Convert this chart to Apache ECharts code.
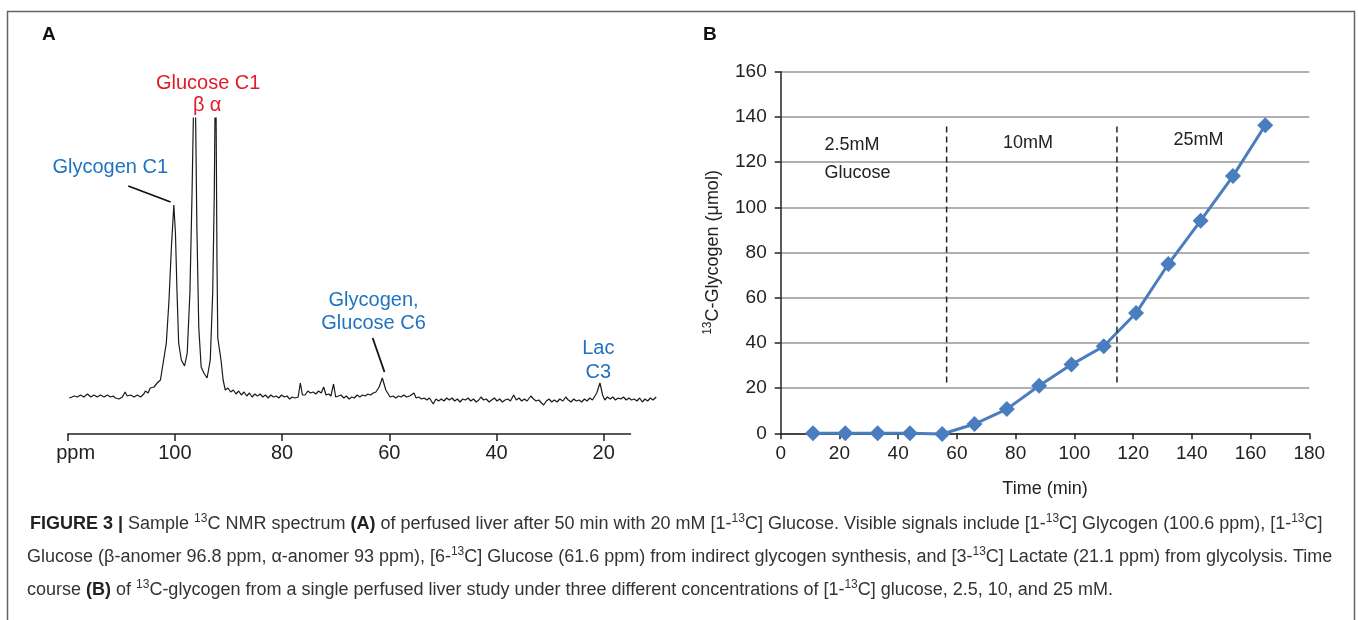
<!DOCTYPE html>
<html>
<head>
<meta charset="utf-8">
<script src="https://cdn.jsdelivr.net/npm/echarts@6.0.0/dist/echarts.min.js"></script>
<style>
  html, body { margin: 0; padding: 0; background: #fff; }
  #main { width: 1358px; height: 620px; }
</style>
</head>
<body>
<div id="main"></div>
<script>
// ---- panel A : 13C NMR spectrum (ppm, intensity) ----
var ppmTicks = [120, 100, 80, 60, 40, 20];
var specPpm = [
  119.7, 119.2, 118.8, 118.2, 117.6, 117.0, 116.3, 115.7, 115.1, 114.5, 113.9, 113.2, 112.6, 112.0, 111.5, 111.1,
  110.4, 109.8, 109.3, 108.9, 108.3, 107.6, 107.0, 106.4, 105.8, 105.5, 105.0, 104.6, 103.9, 103.3, 102.7, 102.4,
  101.6, 101.1, 100.65, 100.2, 99.9, 99.6, 99.3, 98.8, 98.2, 97.7, 97.2, 96.8, 96.3, 95.9, 95.55, 95.1,
  94.6, 94.0, 93.4, 92.95, 92.65, 92.4, 92.15, 92.0, 91.7, 91.4, 91.0, 90.6, 90.1, 89.6, 89.1, 88.6,
  88.1, 87.6, 87.1, 86.6, 86.1, 85.6, 85.1, 84.6, 84.1, 83.6, 83.1, 82.6, 82.1, 81.6, 81.1, 80.6,
  80.1, 79.6, 79.1, 78.6, 78.1, 77.6, 77.0, 76.6, 76.2, 75.7, 75.2, 74.7, 74.2, 73.7, 73.2, 72.7,
  72.25, 71.8, 71.3, 70.9, 70.4, 70.0, 69.5, 69.0, 68.5, 68.0, 67.5, 67.0, 66.5, 66.0, 65.5, 65.0,
  64.5, 64.0, 63.5, 63.0, 62.5, 61.9, 61.3, 60.65, 59.85, 59.3, 58.8, 58.3, 57.8, 57.3, 56.8, 56.2,
  55.4, 55.0, 54.5, 54.0, 53.5, 53.0, 52.5, 51.8, 51.3, 50.8, 50.3, 49.8, 49.3, 48.8, 48.3, 47.8,
  47.3, 46.8, 46.3, 45.8, 45.3, 44.8, 44.3, 43.8, 43.3, 42.9, 42.4, 41.9, 41.4, 40.9, 40.4, 39.9,
  39.4, 38.9, 38.4, 37.9, 37.4, 36.8, 36.3, 35.8, 35.3, 34.8, 34.3, 33.6, 33.1, 32.6, 32.1, 31.6,
  31.2, 30.7, 30.2, 29.7, 29.2, 28.7, 28.2, 27.6, 27.1, 26.6, 26.1, 25.6, 25.1, 24.6, 24.1, 23.6,
  23.1, 22.6, 22.1, 21.8, 21.3, 20.7, 20.2, 19.8, 19.3, 18.8, 18.3, 17.8, 17.3, 16.8, 16.3, 15.8,
  15.3, 14.8, 14.3, 13.8, 13.3, 12.8, 12.3, 11.8, 11.3, 10.8, 10.2
];
var specInt = [
  2, 3, 4, 3, 5, 3, 6, 3, 5, 3, 5, 3, 5, 3, 4, 2,
  1, 3, 8, 4, 5, 3, 5, 3, 6, 9, 7, 12, 13, 17, 20, 30,
  57, 100, 153, 195, 167, 107, 57, 40, 34, 47, 107, 207, 360, 173, 73, 33,
  27, 22, 40, 107, 207, 360, 140, 62, 62, 40, 20, 10, 12, 8, 10, 6,
  9, 5, 8, 4, 7, 3, 6, 4, 6, 3, 5, 2, 5, 3, 4, 2,
  5, 3, 4, 1, 3, 2, 3, 17, 5, 5, 9, 7, 8, 6, 9, 7,
  13, 5, 6, 4, 16, 3, 4, 5, 2, 4, 1, 3, 2, 5, 3, 5,
  4, 6, 5, 7, 8, 13, 22, 10, 3, 4, 2, 4, 3, 5, 3, 4,
  7, 2, 3, 1, 2, 0, 2, -4, 1, -1, 1, -1, 2, 0, 2, -1,
  1, -2, 1, 0, 2, -1, 1, -2, 0, 3, 0, 1, -2, 0, 2, -1,
  1, -2, 0, 1, -1, 5, 0, 2, -1, 1, -1, 4, 1, -1, 0, -3,
  -5, -1, 1, -2, 0, -2, 1, -1, 3, 0, -2, 1, -1, 0, -2, 1,
  -1, 2, 0, 1, 7, 17, 5, 0, 3, 1, 3, 0, 2, 1, 3, 0,
  2, 0, 1, -1, 2, -2, 1, -1, 2, 0, 3
];
// leader lines (ppm, intensity)
var leaderC1 = [[108.7, 214], [100.8, 198]];
var leaderC6 = [[63.1, 62], [60.9, 28]];
// peak annotations: text, ppm, intensity, colour
var peakNames = ['Glucose C1', '\u03b2', '\u03b1', 'Glycogen C1', 'Glycogen,', 'Glucose C6', 'Lac', 'C3'];
var peakPpm = [93.8, 95.55, 92.4, 112.06, 62.94, 62.94, 21.0, 21.0];
var peakInt = [317, 295, 295, 233, 100, 77, 52, 28];
var peakColor = ['#e31b27', '#e31b27', '#e31b27', '#1f73c0', '#1f73c0', '#1f73c0', '#1f73c0', '#1f73c0'];

// ---- panel B : 13C-glycogen time course ----
var timeMin = [11, 22, 33, 44, 55, 66, 77, 88, 99, 110, 121, 132, 143, 154, 165];
var glycogen = [0, 0, 0, 0, -0.3, 4.1, 10.7, 21, 30.4, 38.5, 53.2, 74.9, 94.1, 113.8, 136.3];
var dividerX = [56.5, 114.5];
var dividerY = [22.5, 136];
var phaseNames = ['2.5mM', 'Glucose', '10mM', '25mM'];
var phaseX = [14.9, 14.9, 84.2, 142.3];
var phaseY = [127.6, 115, 128.4, 129.8];

var FONT = '"Liberation Sans", Arial, Helvetica, sans-serif';
var myChart = echarts.init(document.getElementById('main'));

var dividerSeries = dividerX.map(function (x) {
  return {
    type: 'line', xAxisIndex: 2, yAxisIndex: 2, symbol: 'none', silent: true,
    data: [[x, dividerY[0]], [x, dividerY[1]]],
    lineStyle: { color: '#222', width: 1.5, type: [6, 4] }
  };
});

var supStyle = { fontSize: 12, padding: [0, 0, 11, 0] };

var option = {
  animation: false,
  textStyle: { fontFamily: FONT },
  grid: [
    { left: 67.7, top: 118, width: 562.8, height: 316 },   // axis of A
    { left: 67.7, top: 118, width: 589.6, height: 302 },   // trace of A
    { left: 780.7, top: 71.7, width: 528.6, height: 361.6 } // B
  ],
  xAxis: [
    {
      gridIndex: 0, type: 'value', min: 15, max: 120, inverse: true,
      axisLine: { lineStyle: { color: '#222', width: 1.5 } },
      axisTick: { customValues: ppmTicks, length: 7, lineStyle: { color: '#222', width: 1.5 } },
      axisLabel: {
        customValues: ppmTicks, fontSize: 20, color: '#222', margin: 9, fontFamily: FONT,
        formatter: function (v) { return v === 120 ? '{p|ppm}' : String(v); },
        rich: { p: { fontSize: 20, color: '#222', padding: [0, 0, 0, 16], fontFamily: FONT } }
      },
      splitLine: { show: false }
    },
    { gridIndex: 1, type: 'value', min: 10, max: 120, inverse: true, show: false },
    {
      gridIndex: 2, type: 'value', min: 0, max: 180, interval: 20,
      name: 'Time (min)', nameLocation: 'middle', nameGap: 47,
      nameTextStyle: { fontSize: 18, color: '#222', fontFamily: FONT },
      axisLine: { lineStyle: { color: '#222', width: 1.5 } },
      axisTick: { length: 6, lineStyle: { color: '#222', width: 1.5 } },
      axisLabel: { fontSize: 19, color: '#222', margin: 11, fontFamily: FONT },
      splitLine: { show: false }
    }
  ],
  yAxis: [
    { gridIndex: 0, type: 'value', min: 0, max: 1, show: false },
    { gridIndex: 1, type: 'value', min: -20, max: 282, show: false },
    {
      gridIndex: 2, type: 'value', min: 0, max: 160, interval: 20,
      name: '{sup|13}C-Glycogen (\u03bcmol)', nameLocation: 'middle', nameGap: 57,
      nameTextStyle: {
        fontSize: 18, color: '#222', fontFamily: FONT,
        rich: { sup: { fontSize: 12, color: '#222', padding: [0, 0, 10, 0], fontFamily: FONT } }
      },
      axisLine: { show: true, lineStyle: { color: '#222', width: 1.5 } },
      axisTick: { show: true, length: 6, lineStyle: { color: '#222', width: 1.5 } },
      axisLabel: { fontSize: 19, color: '#222', margin: 14, fontFamily: FONT },
      splitLine: { show: true, lineStyle: { color: '#b0b0b0', width: 1.8 } }
    }
  ],
  series: [
    {
      type: 'line', xAxisIndex: 1, yAxisIndex: 1, symbol: 'none', silent: true,
      data: specPpm.map(function (p, i) { return [p, specInt[i]]; }),
      lineStyle: { color: '#1a1a1a', width: 1.2 }
    },
    {
      type: 'line', xAxisIndex: 1, yAxisIndex: 1, symbol: 'none', silent: true,
      data: leaderC1, lineStyle: { color: '#111', width: 1.8 }
    },
    {
      type: 'line', xAxisIndex: 1, yAxisIndex: 1, symbol: 'none', silent: true,
      data: leaderC6, lineStyle: { color: '#111', width: 1.8 }
    },
    {
      type: 'scatter', xAxisIndex: 1, yAxisIndex: 1, symbolSize: 0, clip: false, silent: true,
      itemStyle: { opacity: 1 },
      data: peakNames.map(function (n, i) {
        return { name: n, value: [peakPpm[i], peakInt[i]], label: { color: peakColor[i] } };
      }),
      label: {
        show: true, position: 'inside', formatter: '{b}', fontSize: 20, fontFamily: FONT,
        textBorderWidth: 0, textShadowBlur: 0, opacity: 1
      }
    },
    {
      type: 'line', xAxisIndex: 2, yAxisIndex: 2, clip: false,
      data: timeMin.map(function (t, i) { return [t, glycogen[i]]; }),
      symbol: 'diamond', symbolSize: 16,
      itemStyle: { color: '#4a7dc0' },
      lineStyle: { color: '#4a7dc0', width: 3 }
    }
  ].concat(dividerSeries).concat([
    {
      type: 'scatter', xAxisIndex: 2, yAxisIndex: 2, symbolSize: 0, silent: true, clip: false,
      itemStyle: { opacity: 1 },
      data: phaseNames.map(function (n, i) {
        return {
          name: n, value: [phaseX[i], phaseY[i]],
          label: i < 2 ? { position: 'right', distance: 0 } : { position: 'inside' }
        };
      }),
      label: {
        show: true, formatter: '{b}', fontSize: 18, color: '#222', fontFamily: FONT,
        textBorderWidth: 0, textShadowBlur: 0, opacity: 1
      }
    }
  ]),
  graphic: [
    { type: 'rect', shape: { x: 7.5, y: 11.5, width: 1347, height: 660 },
      style: { fill: 'none', stroke: '#666', lineWidth: 1.5 }, silent: true },
    { type: 'text', left: 42, top: 25, style: { text: 'A', font: 'bold 19px ' + FONT, fill: '#111' } },
    { type: 'text', left: 703, top: 25, style: { text: 'B', font: 'bold 19px ' + FONT, fill: '#111' } },
    { type: 'text', left: 30, top: 513, style: {
        text: '{b|FIGURE 3 |} Sample {sup|13}C NMR spectrum {b|(A)} of perfused liver after 50 min with 20 mM [1-{sup|13}C] Glucose. Visible signals include [1-{sup|13}C] Glycogen (100.6 ppm), [1-{sup|13}C]',
        font: '18px ' + FONT, fill: '#333',
        rich: { b: { fontWeight: 'bold', fontSize: 18, fill: '#222' }, sup: supStyle }
      } },
    { type: 'text', left: 27, top: 546, style: {
        text: 'Glucose (\u03b2-anomer 96.8 ppm, \u03b1-anomer 93 ppm), [6-{sup|13}C] Glucose (61.6 ppm) from indirect glycogen synthesis, and [3-{sup|13}C] Lactate (21.1 ppm) from glycolysis. Time',
        font: '18px ' + FONT, fill: '#333',
        rich: { sup: supStyle }
      } },
    { type: 'text', left: 27, top: 579, style: {
        text: 'course {b|(B)} of {sup|13}C-glycogen from a single perfused liver study under three different concentrations of [1-{sup|13}C] glucose, 2.5, 10, and 25 mM.',
        font: '18px ' + FONT, fill: '#333',
        rich: { b: { fontWeight: 'bold', fontSize: 18, fill: '#222' }, sup: supStyle }
      } }
  ]
};

myChart.setOption(option);
window.addEventListener('resize', function () { myChart.resize(); });
</script>
</body>
</html>
